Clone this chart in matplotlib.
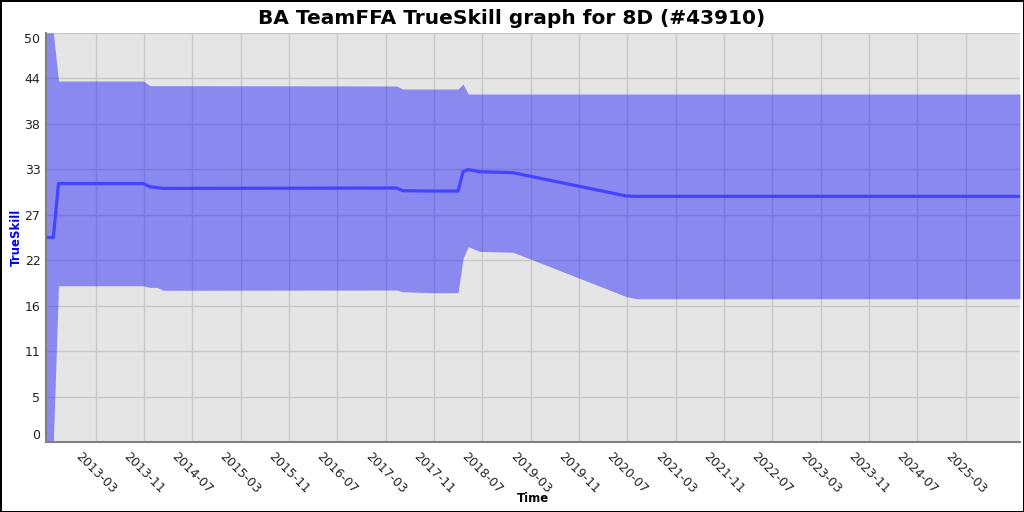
import matplotlib
matplotlib.use("Agg")
import matplotlib.pyplot as plt
import numpy as np
import pandas as pd

# rating history
dates = ["2012-06-24", "2012-07-31", "2012-08-26", "2013-10-27", "2013-11-30",
         "2014-01-04", "2014-02-05", "2017-04-25", "2017-05-27", "2017-10-19",
         "2018-03-01", "2018-03-26", "2018-04-21", "2018-06-19", "2018-12-03",
         "2020-06-27", "2020-08-16", "2025-11-30"]
mu = [25.0, 25.0, 31.6, 31.6, 31.2, 31.1, 31.0, 31.05, 30.72, 30.68,
      30.68, 33.04, 33.3, 33.04, 32.92, 30.07, 30.03, 30.03]
upper = [50.0, 50.0, 44.13, 44.13, 43.56, 43.56, 43.56, 43.52, 43.15, 43.15,
         43.15, 43.77, 42.54, 42.54, 42.54, 42.54, 42.54, 42.54]
lower = [0.0, 0.0, 19.1, 19.1, 18.9, 18.9, 18.55, 18.58, 18.37, 18.25,
         18.25, 22.45, 23.87, 23.3, 23.2, 17.76, 17.52, 17.52]

tick_months = ["2013-03", "2013-11", "2014-07", "2015-03", "2015-11", "2016-07",
               "2017-03", "2017-11", "2018-07", "2019-03", "2019-11", "2020-07",
               "2021-03", "2021-11", "2022-07", "2023-03", "2023-11", "2024-07",
               "2025-03"]
y_ticks = np.linspace(0, 50, 10)
y_labels = [str(int(v)) for v in y_ticks]

x = pd.to_datetime(dates)

fig = plt.figure(figsize=(10.24, 5.12), dpi=100)
fig.patch.set_edgecolor("black")
fig.patch.set_linewidth(1)
ax = fig.add_axes([46 / 1024, 1 - 442 / 512, (1020 - 46) / 1024, (442 - 33) / 512])
ax.set_facecolor("#e5e5e5")
ax.set_axisbelow(True)

ax.fill_between(x, lower, upper, color="blue", alpha=0.4, linewidth=0)
ax.plot(x, mu, color="#4444ff", linewidth=2.3)

ax.set_xlim(pd.Timestamp("2012-06-24"), pd.Timestamp("2025-11-30"))
ax.set_ylim(0, 50)

ax.set_xticks(pd.to_datetime(tick_months))
ax.set_xticklabels(tick_months, rotation=-45, ha="center", va="top", fontsize=9)
ax.set_yticks(y_ticks)
ax.set_yticklabels(y_labels, fontsize=9)
ylabs = ax.get_yticklabels()
ylabs[0].set_va("bottom")
ylabs[-1].set_va("top")

ax.tick_params(axis="both", length=0, colors="#222222")
ax.tick_params(axis="x", pad=6)
ax.tick_params(axis="y", pad=4)
ax.grid(True, color="#c8c8c8", linewidth=1)

for side in ["top", "right"]:
    ax.spines[side].set_visible(False)
for side in ["left", "bottom"]:
    ax.spines[side].set_color("#808080")
    ax.spines[side].set_linewidth(1.5)

fig.text(0.5, 1 - 18 / 512, "BA TeamFFA TrueSkill graph for 8D (#43910)",
         ha="center", va="center", fontsize=14.5, fontweight="bold")
fig.text(16 / 1024, 1 - 237 / 512, "TrueSkill", rotation=90, ha="center",
         va="center", fontsize=8.5, fontweight="bold", color="blue")
fig.text(533 / 1024, 1 - 499 / 512, "Time", ha="center", va="center",
         fontsize=8.5, fontweight="bold")

fig.savefig("out.png", dpi=100, edgecolor=fig.get_edgecolor())
